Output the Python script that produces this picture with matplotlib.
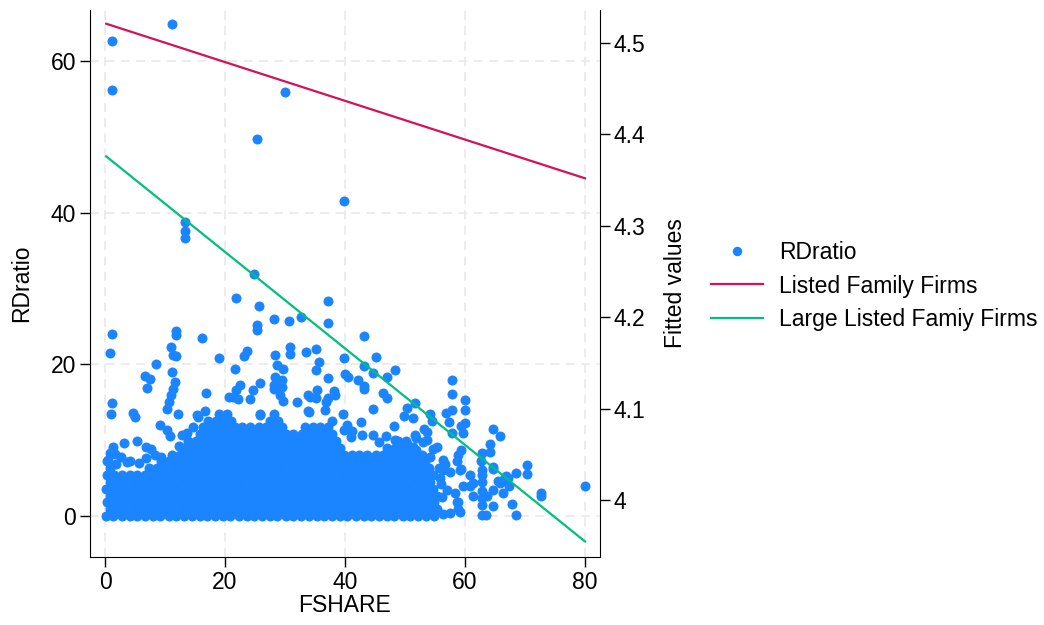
"""R&D ratio against family share, with fitted lines for listed and large listed firms.

Saves out.png.
"""
import matplotlib

matplotlib.use("Agg")
import matplotlib.pyplot as plt
from matplotlib.lines import Line2D
from matplotlib.ticker import FormatStrFormatter

# dense body of the scatter, one list of FSHARE values per RDratio level
core_rd = [0.0, 0.9, 1.8, 2.7, 3.6, 4.5, 5.4, 6.3, 7.2, 8.1, 9.0, 9.9, 10.8, 11.7, 12.6, 13.5]
core_fshare = [
    [0.2, 1.4, 2.8, 4.1, 5.3, 6.7, 8.0, 9.2, 10.6, 11.9, 13.1, 14.5, 15.8, 17.0, 18.4, 19.7, 20.9, 22.3,
     23.6, 24.8, 26.2, 27.5, 28.7, 30.1, 31.4, 32.6, 34.0, 35.3, 36.5, 37.9, 39.2, 40.4, 41.8, 43.1,
     44.3, 45.7, 47.0, 48.2, 49.6, 50.9, 52.1, 53.5, 54.8],
    [0.8, 2.1, 3.4, 4.8, 6.0, 7.3, 8.6, 9.9, 11.2, 12.6, 13.8, 15.1, 16.4, 17.7, 19.0, 20.4, 21.6, 22.9,
     24.2, 25.5, 26.8, 28.2, 29.4, 30.7, 32.0, 33.3, 34.6, 36.0, 37.2, 38.5, 39.8, 41.1, 42.4, 43.8,
     45.0, 46.3, 47.6, 48.9, 50.2, 51.6, 52.8, 54.1, 55.4],
    [0.3, 1.5, 2.9, 4.1, 5.4, 6.8, 8.0, 9.3, 10.7, 11.9, 13.2, 14.6, 15.8, 17.1, 18.5, 19.7, 21.0, 22.4,
     23.6, 24.9, 26.3, 27.5, 28.8, 30.2, 31.4, 32.7, 34.1, 35.3, 36.6, 38.0, 39.2, 40.5, 41.9, 43.1,
     44.4, 45.8, 47.0, 48.3, 49.7, 50.9, 52.2, 53.6, 54.8],
    [0.8, 2.2, 3.4, 4.7, 6.1, 7.3, 8.6, 10.0, 11.2, 12.5, 13.9, 15.1, 16.4, 17.8, 19.0, 20.3, 21.7, 22.9,
     24.2, 25.6, 26.8, 28.1, 29.5, 30.7, 32.0, 33.4, 34.6, 35.9, 37.3, 38.5, 39.8, 41.2, 42.4, 43.7,
     45.1, 46.3, 47.6, 49.0, 50.2, 51.5, 52.9, 54.1, 55.3],
    [0.2, 1.6, 2.8, 4.1, 5.5, 6.7, 8.0, 9.4, 10.6, 11.9, 13.3, 14.5, 15.8, 17.2, 18.4, 19.7, 21.1, 22.3,
     23.6, 25.0, 26.2, 27.5, 28.9, 30.1, 31.4, 32.8, 34.0, 35.3, 36.7, 37.9, 39.2, 40.6, 41.8, 43.1,
     44.5, 45.7, 47.0, 48.4, 49.6, 50.9, 52.3, 53.5, 54.7],
    [0.9, 2.1, 3.4, 4.8, 6.0, 7.3, 8.7, 9.9, 11.2, 12.6, 13.8, 15.1, 16.5, 17.7, 19.0, 20.4, 21.6, 22.9,
     24.3, 25.5, 26.8, 28.2, 29.4, 30.7, 32.1, 33.3, 34.6, 36.0, 37.2, 38.5, 39.9, 41.1, 42.4, 43.8,
     45.0, 46.3, 47.7, 48.9, 50.2, 51.6, 52.8, 54.1],
    [0.3, 1.5, 2.8, 4.2, 5.4, 6.7, 8.1, 9.3, 10.6, 12.0, 13.2, 14.5, 15.9, 17.1, 18.4, 19.8, 21.0, 22.3,
     23.7, 24.9, 26.2, 27.6, 28.8, 30.1, 31.5, 32.7, 34.0, 35.4, 36.6, 37.9, 39.3, 40.5, 41.8, 43.2,
     44.4, 45.7, 47.1, 48.3, 49.6, 51.0, 52.2, 53.5, 54.6],
    [0.8, 7.3, 8.6, 9.9, 11.3, 12.5, 13.8, 15.2, 16.4, 17.7, 19.1, 20.3, 21.6, 23.0, 24.2, 25.5, 26.9,
     28.1, 29.4, 30.8, 32.0, 33.3, 34.7, 35.9, 37.2, 38.6, 39.8, 41.1, 42.5, 43.7, 45.0, 46.4, 47.6,
     48.9, 50.3, 51.5, 52.8, 54.0],
    [9.3, 10.7, 11.9, 13.2, 14.6, 15.8, 17.1, 18.5, 19.7, 21.0, 22.4, 23.6, 24.9, 26.3, 27.5, 28.8,
     30.2, 31.4, 32.7, 34.1, 35.3, 36.6, 38.0, 39.2, 40.5, 41.9, 43.1, 44.4, 45.8, 47.0, 48.3, 49.7,
     50.9, 52.2, 53.4],
    [11.2, 12.5, 13.9, 15.1, 16.4, 17.8, 19.0, 20.3, 21.7, 22.9, 24.2, 25.6, 26.8, 28.1, 29.5, 30.7,
     32.0, 33.4, 34.6, 35.9, 37.3, 38.5, 39.8, 41.2, 42.4, 43.7, 45.1, 46.3, 47.6, 49.0, 50.2, 51.5, 52.8],
    [13.2, 14.5, 15.9, 17.1, 18.4, 19.8, 21.0, 22.3, 23.7, 24.9, 26.2, 27.6, 28.8, 30.1, 31.5, 32.7,
     34.0, 35.4, 36.6, 37.9, 39.2, 47.0, 48.4, 49.6, 50.9],
    [13.8, 15.2, 16.4, 17.7, 19.1, 20.3, 21.6, 23.0, 24.2, 25.5, 26.9, 28.1, 29.4, 30.8, 32.0, 33.3,
     34.7, 35.9, 37.2, 38.5, 48.9, 50.2],
    [15.8, 17.2, 18.4, 19.7, 21.1, 22.3, 23.6, 25.0, 26.2, 27.5, 28.9, 30.1, 31.4, 32.8, 34.0, 35.3,
     36.7, 37.9],
    [16.4, 17.8, 19.0, 20.3, 21.7, 22.9, 24.2, 25.6, 26.8, 28.1, 29.5, 33.3, 34.7, 35.9, 37.2],
    [17.1, 18.5, 19.7, 21.0, 27.5, 28.9, 37.9],
    [19.0, 20.3, 28.2],
]

# scattered firms around and above the dense body
spread_fshare = [
    1.1, 11.2, 1.1, 30.0, 25.3, 39.9, 13.3, 13.3, 13.3, 24.9, 21.8, 37.2, 25.7, 37.2, 28.1, 30.6,
    32.7, 25.3, 25.3, 1.1, 0.9, 11.8, 11.8, 11.0, 11.8, 11.3, 16.1, 19.0, 8.5, 6.7, 7.5, 7.0,
    11.2, 11.6, 11.4, 11.0, 10.6, 10.3, 12.2, 9.1, 4.7, 5.0, 1.1, 1.0, 21.7, 23.6, 23.2, 28.4,
    30.8, 30.8, 33.5, 35.2, 35.7, 35.2, 37.2, 28.6, 29.7, 22.5, 25.9, 16.9, 21.4, 15.3, 16.7, 25.9,
    12.9, 5.3, 3.2, 1.4, 0.9, 38.2, 37.2, 34.1, 34.0, 43.2, 39.9, 45.1, 43.1, 44.7, 40.0, 40.5,
    42.2, 43.1, 43.1, 48.3, 47.0, 38.3, 46.4, 47.0, 44.7, 51.6, 50.3, 49.8, 51.4, 54.2, 54.5, 53.1,
    48.1, 42.7, 44.7, 42.9, 57.9, 57.9, 60.0, 60.0, 56.9, 57.9, 57.3, 60.0, 59.3, 59.7, 57.9, 64.7,
    65.9, 64.1, 64.1, 62.8, 59.3, 58.9, 58.6, 59.4, 56.4, 57.5, 62.7, 62.8, 64.6, 66.4, 67.4, 68.5,
    70.3, 70.4, 66.9, 72.6, 72.6, 80.0, 67.8, 68.5, 64.6, 62.8, 63.5, 62.8, 62.8, 61.4, 60.8, 65.5,
    66.4, 57.5, 56.4, 58.9, 58.6, 62.8, 62.8, 62.8, 59.2, 60.8, 61.4, 59.7, 58.3, 59.2, 58.9, 64.7,
    63.7, 56.2, 56.0, 57.0, 55.8, 67.2, 65.8, 64.7, 53.6, 54.2, 56.4, 55.3, 51.4, 50.3, 51.9, 53.6,
    51.7, 48.3, 51.9, 28.3, 29.5, 28.1, 29.5, 28.1, 29.2, 29.6, 36.9, 33.9, 35.2, 33.8, 35.3, 24.7,
    24.2, 22.1, 25.8, 32.0, 36.7, 6.8, 7.7, 9.4, 10.4, 10.8, 14.7, 15.5, 17.2, 2.7, 6.9, 1.6,
    0.3, 20.6, 21.9, 4.2, 5.6, 8.3, 12.3, 13.6, 39.9, 41.0, 45.6, 46.9, 53.0, 54.6, 55.6, 56.7,
    40.3, 41.2, 39.6, 0.5, 1.9, 3.6,
]
spread_rd = [
    62.6, 64.9, 56.2, 55.9, 49.7, 41.6, 38.8, 37.6, 36.7, 31.9, 28.7, 28.4, 27.7, 25.4, 26.0, 25.7,
    26.3, 25.2, 24.5, 24.0, 21.5, 24.4, 23.9, 22.3, 21.1, 21.2, 23.5, 20.8, 20.1, 18.5, 18.1, 16.9,
    19.0, 17.7, 16.8, 16.0, 15.1, 14.1, 13.5, 12.0, 13.6, 13.1, 14.9, 13.5, 19.4, 21.8, 21.1, 21.3,
    22.3, 21.4, 21.6, 22.1, 20.3, 19.2, 18.2, 19.9, 19.4, 17.3, 17.5, 16.2, 15.7, 13.3, 13.9, 13.3,
    10.7, 9.9, 9.6, 9.1, 8.3, 16.5, 15.6, 15.7, 13.7, 23.7, 20.9, 21.0, 19.8, 18.9, 18.8, 18.4,
    17.9, 17.2, 16.7, 19.3, 18.4, 16.0, 16.2, 15.6, 14.1, 14.9, 14.2, 13.2, 12.9, 13.4, 12.6, 11.5,
    11.9, 12.4, 10.7, 10.7, 18.0, 16.1, 15.3, 14.0, 13.6, 14.0, 12.4, 12.3, 11.9, 11.0, 11.0, 11.5,
    10.6, 9.5, 8.5, 8.3, 8.7, 8.0, 7.2, 6.2, 6.1, 5.8, 7.2, 6.1, 6.2, 4.8, 3.9, 5.7,
    6.7, 5.6, 5.3, 3.0, 2.6, 4.0, 1.6, 0.1, 1.3, 0.1, 0.1, 2.4, 3.3, 2.6, 3.9, 4.6,
    3.0, 0.4, 0.3, 0.9, 1.8, 4.5, 5.4, 1.5, 6.1, 5.4, 4.3, 3.9, 3.0, 0.6, 1.9, 3.4,
    2.6, 2.5, 4.2, 3.4, 5.0, 5.0, 4.3, 6.5, 10.0, 7.8, 7.4, 9.1, 9.1, 9.5, 10.3, 11.1,
    10.7, 10.0, 8.7, 18.4, 17.9, 17.3, 17.0, 16.7, 16.0, 15.2, 15.1, 16.0, 15.6, 13.8, 16.6, 16.6,
    15.5, 15.5, 13.5, 15.1, 14.0, 9.1, 8.8, 7.8, 11.3, 10.5, 11.8, 13.1, 12.2, 7.8, 7.6, 8.2,
    7.3, 15.7, 16.6, 7.2, 7.0, 8.0, 9.3, 11.0, 11.3, 10.4, 9.8, 10.6, 9.8, 8.9, 6.4, 6.9,
    12.0, 11.2, 13.5, 7.4, 6.9, 7.1,
]

# fitted values at the ends of the FSHARE range
fit_fshare = [0.2, 80.0]
fit_listed = [4.521, 4.352]
fit_large = [4.376, 3.955]

BLUE = "#1a85ff"
RED = "#d41159"
GREEN = "#00bf7f"
FS = 16.5
MS = 7.2


def main() -> None:
    plt.rcParams["font.family"] = ["Liberation Sans", "DejaVu Sans"]
    plt.rcParams["font.size"] = FS

    fig = plt.figure(figsize=(10.44, 6.25), dpi=100)
    ax = fig.add_axes([90 / 1044, 1 - 557 / 625, 510 / 1044, 547 / 625])
    ax2 = ax.twinx()

    xs = [x for row in core_fshare for x in row] + spread_fshare
    ys = [y for y, row in zip(core_rd, core_fshare) for _ in row] + spread_rd
    ax.plot(xs, ys, "o", ms=MS, mec="none", color=BLUE, zorder=3)

    ax2.plot(fit_fshare, fit_listed, color=RED, lw=1.6)
    ax2.plot(fit_fshare, fit_large, color=GREEN, lw=1.6)

    ax.set_xlim(-2.5, 82.5)
    ax.set_ylim(-5.4, 66.75)
    ax2.set_ylim(3.938, 4.536)
    ax.set_xticks([0, 20, 40, 60, 80])
    ax.set_yticks([0, 20, 40, 60])
    ax2.set_yticks([4.0, 4.1, 4.2, 4.3, 4.4, 4.5])
    ax2.yaxis.set_major_formatter(FormatStrFormatter("%g"))

    ax.grid(True, color="#ebebeb", lw=1.3, ls=(0, (5, 3.5)), zorder=0)
    for sp in ("top", "right"):
        ax.spines[sp].set_visible(False)
    for sp in ("top", "left", "bottom"):
        ax2.spines[sp].set_visible(False)
    for a in (ax, ax2):
        a.tick_params(direction="out", length=7, width=1, pad=3, labelsize=FS)

    ax.set_xlabel("FSHARE", va="center")
    ax.xaxis.set_label_coords((345 - 90) / 510, (557 - 605) / 547)
    ax.set_ylabel("RDratio", va="center")
    ax.yaxis.set_label_coords((22 - 90) / 510, 0.5)
    ax2.set_ylabel("Fitted values", va="center")
    ax2.yaxis.set_label_coords((675 - 90) / 510, 0.5)

    handles = [
        Line2D([], [], ls="none", marker="o", ms=6.8, mec="none", color=BLUE),
        Line2D([], [], color=RED, lw=1.6),
        Line2D([], [], color=GREEN, lw=1.6),
    ]
    labels = ["RDratio", "Listed Family Firms", "Large Listed Famiy Firms"]
    fig.legend(handles, labels, loc="center left", bbox_to_anchor=(711 / 1044, 1 - 286 / 625),
               frameon=False, borderpad=0, borderaxespad=0, handlelength=2.27,
               handletextpad=0.7, labelspacing=0.45, fontsize=FS)

    fig.savefig("out.png", dpi=100)


if __name__ == "__main__":
    main()
